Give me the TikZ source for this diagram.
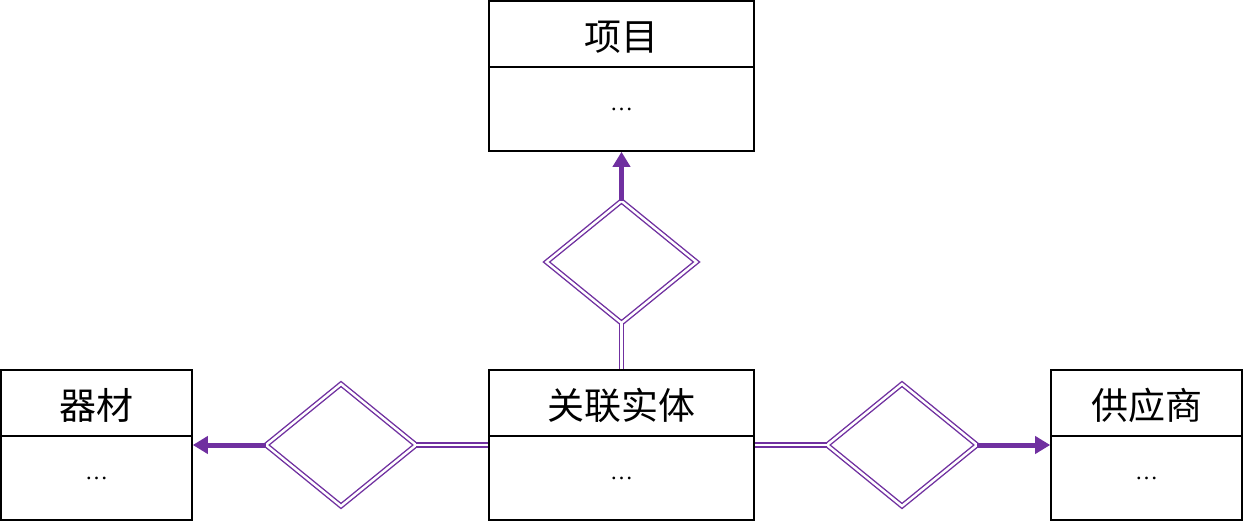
\documentclass[tikz,border=0pt]{standalone}
\usepackage{fontspec}
\setmainfont{Liberation Serif}
\newfontfamily\cjk{Noto Sans CJK SC}
\usetikzlibrary{shapes.geometric,arrows.meta}
\definecolor{erpurple}{HTML}{7030A0}
\tikzset{
  entity/.style={draw=black, line width=1.6pt, fill=white, inner sep=0pt},
  etitle/.style={anchor=base, inner sep=0pt, font=\cjk\fontsize{37pt}{42pt}\selectfont},
  edots/.style={anchor=base, inner sep=0pt, font=\fontsize{23pt}{27pt}\selectfont},
  rel/.style={diamond, draw=erpurple, double=white, double distance=2.4pt, line width=1.4pt,
    minimum width=150pt, minimum height=122pt, inner sep=0pt, outer sep=0pt},
  dbl/.style={draw=erpurple, double=white, double distance=2.4pt, line width=1.4pt},
  harrow/.style={draw=erpurple, line width=5pt, -{Triangle[length=15pt,width=17pt]}}
}
\begin{document}
\begin{tikzpicture}[x=1pt,y=-1pt]
\useasboundingbox (0,0) rectangle (1243,524);
% entities
\node[entity, minimum width=265pt, minimum height=150pt] (xm) at (621.5,76) {};
\node[entity, minimum width=191pt, minimum height=150pt] (qc) at (96.5,445) {};
\node[entity, minimum width=265pt, minimum height=150pt] (gl) at (621.5,445) {};
\node[entity, minimum width=191pt, minimum height=150pt] (gys) at (1146.5,445) {};
\foreach \e in {xm,qc,gl,gys}{
  \draw[line width=1.6pt] ([yshift=-67pt]\e.north west) -- ([yshift=-67pt]\e.north east);
}
\node[etitle] (xmt) at ([yshift=-50pt]xm.north) {项目};
\node[etitle] (qct) at ([yshift=-50pt]qc.north) {器材};
\node[etitle] (glt) at ([yshift=-50pt]gl.north) {关联实体};
\node[etitle] (gyst) at ([yshift=-50pt]gys.north) {供应商};
\node[edots] (xmd) at ([yshift=-110pt]xm.north) {…};
\node[edots] (qcd) at ([yshift=-110pt]qc.north) {…};
\node[edots] (gld) at ([yshift=-110pt]gl.north) {…};
\node[edots] (gysd) at ([yshift=-110pt]gys.north) {…};
% relationships
\node[rel] (rt) at (621.5,262) {};
\node[rel] (rl) at (341,445) {};
\node[rel] (rr) at (902,445) {};
% connectors
\draw[dbl] (gl.north) -- (rt.south);
\draw[dbl] (gl.west) -- (rl.east);
\draw[dbl] (gl.east) -- (rr.west);
\draw[harrow] (rt.north) -- (xm.south);
\draw[harrow] (rl.west) -- (qc.east);
\draw[harrow] (rr.east) -- (gys.west);
\end{tikzpicture}
\end{document}
